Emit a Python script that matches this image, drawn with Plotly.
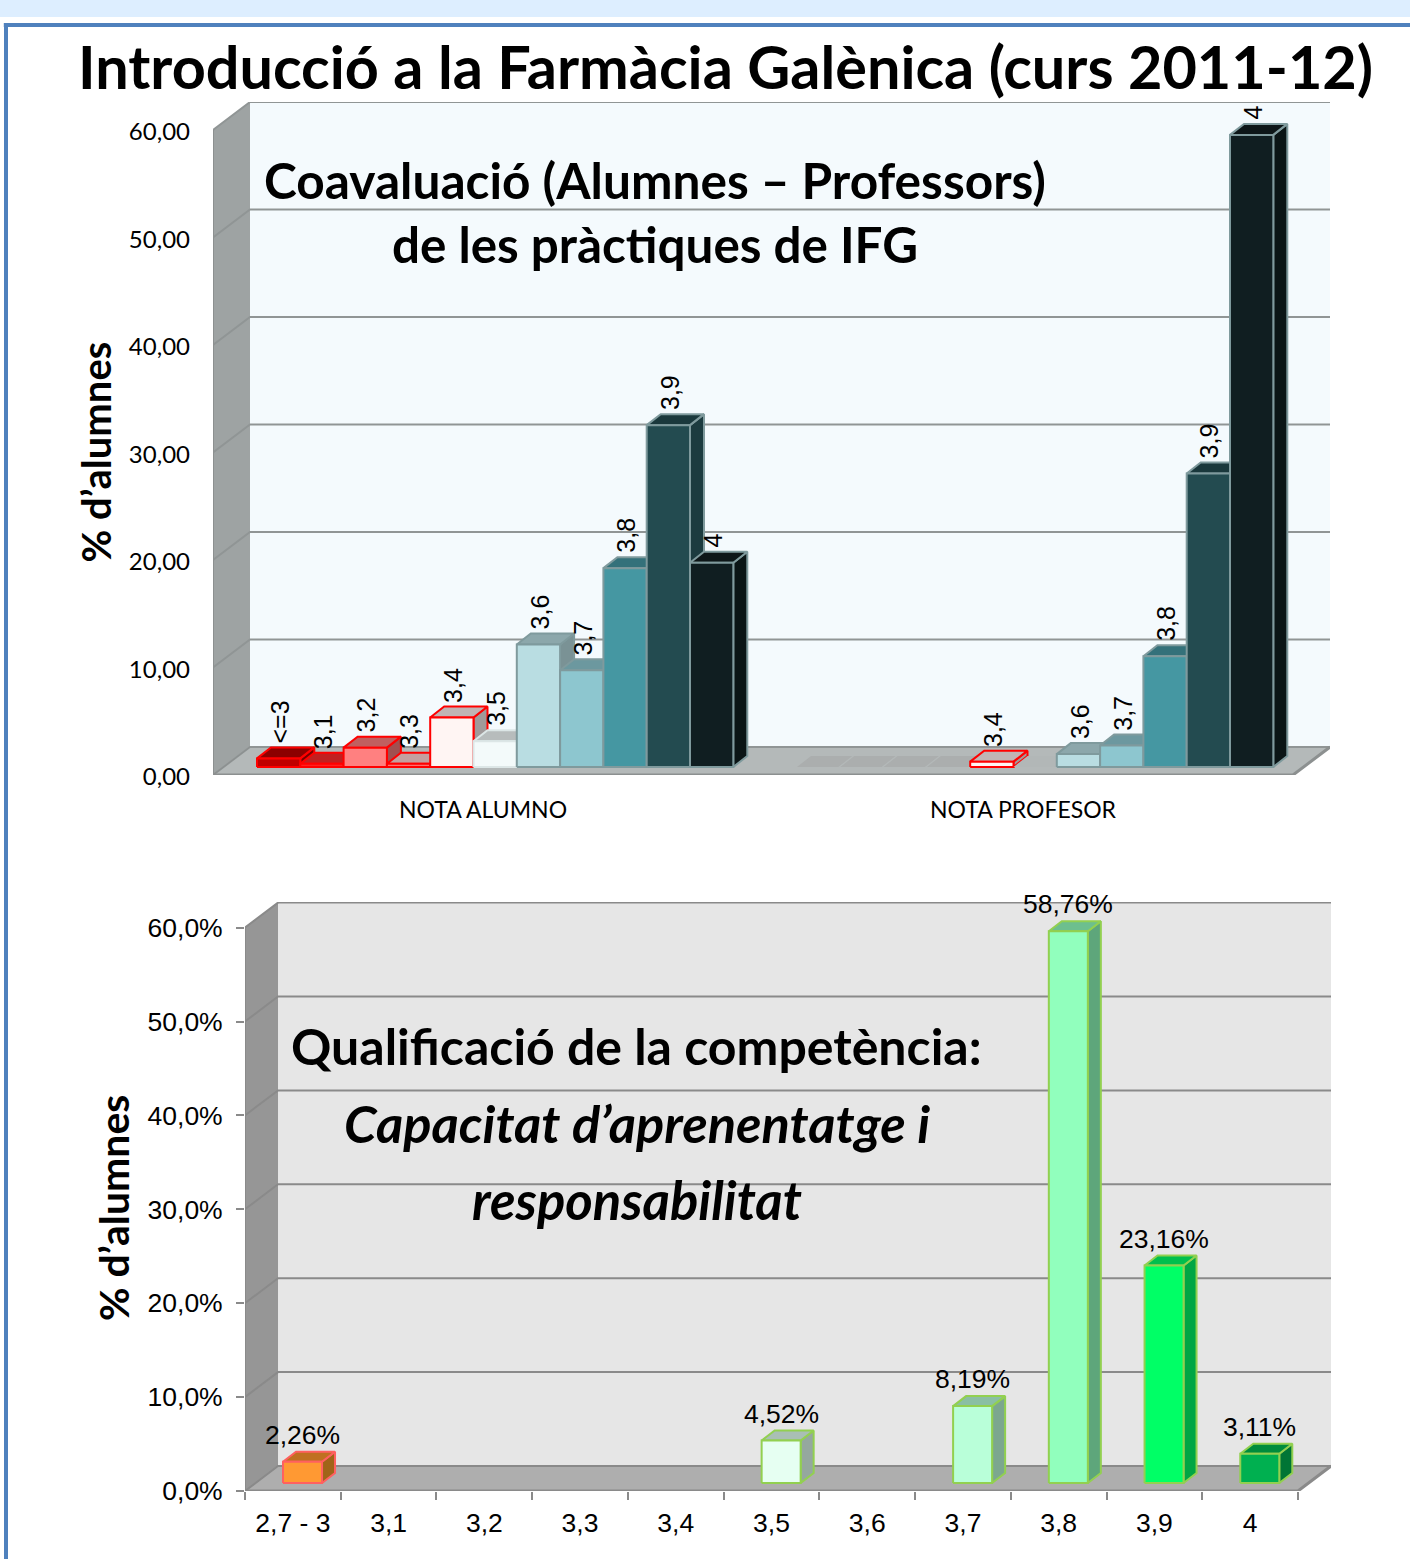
import plotly.graph_objects as go

# ---------- data ----------
grades_top = ["<=3", "3,1", "3,2", "3,3", "3,4", "3,5", "3,6", "3,7", "3,8", "3,9", "4"]
groups_top = ["NOTA ALUMNO", "NOTA PROFESOR"]
nota_alumno = [0.8, 0.3, 1.8, 0.3, 4.6, 2.4, 11.4, 9.0, 18.5, 31.8, 19.0]
nota_profesor = [0, 0, 0, 0, 0.5, 0, 1.2, 2.0, 10.3, 27.3, 58.8]
ticks_top = [0, 10, 20, 30, 40, 50, 60]
ticklabels_top = ["0,00", "10,00", "20,00", "30,00", "40,00", "50,00", "60,00"]

grades_bottom = ["2,7 - 3", "3,1", "3,2", "3,3", "3,4", "3,5", "3,6", "3,7", "3,8", "3,9", "4"]
pct_bottom = [2.26, 0, 0, 0, 0, 4.52, 0, 8.19, 58.76, 23.16, 3.11]
ticks_bottom = [0, 10, 20, 30, 40, 50, 60]
ticklabels_bottom = ["0,0%", "10,0%", "20,0%", "30,0%", "40,0%", "50,0%", "60,0%"]

# ---------- styles ----------
front_top = ["#C00000", "#FF2020", "#FF8080", "#FF7070", "#FFF5F3", "#F3FAFA", "#B9DDE2", "#8DC6CF", "#4597A2", "#234B50", "#101E21"]
roof_top = ["#8C0000", "#C02020", "#C06060", "#C4A0A0", "#C0B4B4", "#B7BCBC", "#8CA7AB", "#6C989F", "#34717A", "#1A383C", "#0D1618"]
side_top = ["#780000", "#A81818", "#A05050", "#A88A8A", "#A09A9A", "#A3A8A8", "#7A9295", "#5F868C", "#2D626A", "#1C3B3F", "#0B1516"]
edge_top = ["#FF0000"] * 5 + ["#DCE6E6"] + ["#7F9A9D"] * 5

front_bot = ["#FF9933", None, None, None, None, "#E6FFF2", None, "#B9FFD9", "#91FFBD", "#00FF66", "#00B050"]
roof_bot = ["#C07020", None, None, None, None, "#A9BFB4", None, "#8ABFA3", "#6DBF8E", "#00BF4D", "#008C3C"]
side_bot = ["#A06418", None, None, None, None, "#95A89F", None, "#7CA78F", "#5EA67B", "#00A644", "#007535"]
edge_bot = ["#FF6060"] + ["#92D050"] * 10

W, H = 1410, 1559
fig = go.Figure()


def px(x):
    return x / W


def py(y):
    return 1 - y / H


def poly(xs, ys, fill, axes, line=None, lw=2, name=""):
    fig.add_trace(go.Scatter(
        x=xs + [xs[0]], y=ys + [ys[0]], mode="lines", fill="toself", fillcolor=fill,
        line=dict(color=line or fill, width=lw if line else 0), xaxis=axes[0], yaxis=axes[1],
        hoverinfo="skip", showlegend=False, name=name))


def lines(xs, ys, color, axes, lw=2):
    fig.add_trace(go.Scatter(x=xs, y=ys, mode="lines", line=dict(color=color, width=lw),
                             xaxis=axes[0], yaxis=axes[1], hoverinfo="skip", showlegend=False))


def room(axes, n, ticks, dx, dy, wall, left, floor, grid, edge):
    top = ticks[-1]
    poly([dx, n + dx, n + dx, dx], [dy, dy, top + dy, top + dy], wall, axes)
    poly([0, dx, dx, 0], [0, dy, top + dy, top], left, axes)
    poly([0, n, n + dx, dx], [0, 0, dy, dy], floor, axes)
    for t in ticks:
        lines([0, dx, n + dx], [t, t + dy, t + dy], grid, axes)
    lines([0, 0], [0, top], edge, axes, 2)
    lines([0, n, n + dx], [0, 0, dy], edge, axes, 3)
    lines([0, dx], [0, dy], edge, axes, 1)


def bar(x0, w, v, by, ddx, ddy, front, roof, side, edge, axes, name):
    x1, x2 = x0 + w, x0 + w + ddx
    b, t = by, by + v
    poly([x1, x2, x2, x1], [b, b + ddy, t + ddy, t], side, axes, edge, name=name)
    poly([x0, x1, x2, x0 + ddx], [t, t, t + ddy, t + ddy], roof, axes, edge, name=name)
    poly([x0, x1, x1, x0], [b, b, t, t], front, axes, edge, name=name)


annotations = []


def text(s, x, y, size, bold=True, italic=False, family="Lato", angle=0):
    if bold:
        s = "<b>" + s + "</b>"
    if italic:
        s = "<i>" + s + "</i>"
    annotations.append(dict(text=s, x=px(x), y=py(y), xref="paper", yref="paper", showarrow=False,
                            xanchor="center", yanchor="middle", textangle=angle,
                            font=dict(family=family, size=size, color="#000000")))


# ---------- top chart ----------
T = ("x", "y")
UX_T = 540.0   # px per group
UY_T = 10.75   # px per percent
DX_T, DY_T = 37 / UX_T, 28 / UY_T
room(T, 2, ticks_top, DX_T, DY_T, "#F4FAFD", "#9EA3A3", "#B4B9B9", "#909595", "#8C9090")
bw = 43.3 / UX_T
bx0 = 44 / UX_T
by_T = 8 / UY_T
ddx, ddy = 14 / UX_T, 11 / UY_T
for g, vals in enumerate([nota_alumno, nota_profesor]):
    for i, v in enumerate(vals):
        x0 = g + bx0 + i * bw
        if v == 0:
            poly([x0, x0 + bw - 2 / UX_T, x0 + bw + ddx - 2 / UX_T, x0 + ddx], [by_T, by_T, by_T + ddy, by_T + ddy],
                 "#ABAEAE" if i < 4 else "#B2B7B7", T, name=grades_top[i])
            continue
        bar(x0, bw, v, by_T, ddx, ddy, front_top[i], roof_top[i], side_top[i], edge_top[i], T, grades_top[i])
        annotations.append(dict(text=grades_top[i], x=x0 + bw / 2 + 1 / UX_T, y=by_T + v + ddy + 3 / UY_T,
                                xref="x", yref="y", showarrow=False, textangle=-90, xanchor="center",
                                yanchor="bottom", borderpad=0,
                                font=dict(family="Liberation Sans", size=25, color="#000000")))

# ---------- bottom chart ----------
B = ("x2", "y2")
UX_B = 95.7
UY_B = 9.39
DX_B, DY_B = 33 / UX_B, 25 / UY_B
room(B, 11, ticks_bottom, DX_B, DY_B, "#E6E6E6", "#969696", "#AEAEAE", "#8A8A8A", "#8A8A8A")
bw2 = 39 / UX_B
bx2 = 38 / UX_B
by_B = 8 / UY_B
dd2x, dd2y = 13 / UX_B, 10 / UY_B
for i, v in enumerate(pct_bottom):
    if v == 0:
        continue
    x0 = i + bx2
    bar(x0, bw2, v, by_B, dd2x, dd2y, front_bot[i], roof_bot[i], side_bot[i], edge_bot[i], B, grades_bottom[i])
    annotations.append(dict(text=f"{v:.2f}".replace(".", ",") + "%", x=x0 + bw2 / 2, y=by_B + v + 27 / UY_B,
                            xref="x2", yref="y2", showarrow=False, xanchor="center", yanchor="middle",
                            font=dict(family="Liberation Sans", size=26.5, color="#000000")))

# ---------- free text ----------
text("Introducció a la Farmàcia Galènica (curs 2011-12)", 725, 66, 59.4)
text("Coavaluació (Alumnes – Professors)", 655, 180, 49.6)
text("de les pràctiques de IFG", 655, 244, 49.4)
text("% d’alumnes", 95.5, 452, 40, angle=-90)
text("Qualificació de la competència:", 636, 1046, 50)
text("Capacitat d’aprenentatge i", 637, 1122, 52.4, italic=True)
text("responsabilitat", 637, 1199, 52.6, italic=True)
text("% d’alumnes", 113, 1208, 41, angle=-90)

# ---------- page furniture ----------
shapes = [
    dict(type="rect", xref="paper", yref="paper", x0=0, x1=1, y0=py(17), y1=1, fillcolor="#DDEEFF", line_width=0, layer="below"),
    dict(type="line", xref="paper", yref="paper", x0=px(3.8), x1=1, y0=py(25), y1=py(25), line=dict(color="#4F81BD", width=4), layer="below"),
    dict(type="line", xref="paper", yref="paper", x0=px(6), x1=px(6), y0=py(25), y1=0, line=dict(color="#4F81BD", width=4), layer="below"),
]

fig.update_layout(
    width=W, height=H, margin=dict(l=0, r=0, t=0, b=0), paper_bgcolor="#FFFFFF", plot_bgcolor="rgba(0,0,0,0)",
    showlegend=False, annotations=annotations, shapes=shapes,
    xaxis=dict(domain=[px(213), px(1330)], range=[0, 2 + DX_T], tickvals=[0.5, 1.5], ticktext=groups_top, automargin=False,
               showgrid=False, zeroline=False, showline=False, ticks="", anchor="y", ticklabelstandoff=19,
               tickfont=dict(family="Lato", size=23, color="#000000")),
    yaxis=dict(domain=[py(775), py(102)], range=[0, (775 - 102) / UY_T], tickvals=ticks_top, ticktext=ticklabels_top, automargin=False,
               showgrid=False, zeroline=False, showline=False, ticks="", anchor="x", ticklabelstandoff=22, ticklabelshift=2,
               tickfont=dict(family="Lato", size=24, color="#000000")),
    xaxis2=dict(domain=[px(245), px(1331)], range=[0, 11 + DX_B], tickvals=[i + 0.5 for i in range(11)], automargin=False,
                ticktext=grades_bottom, showgrid=False, zeroline=False, showline=False, ticks="", anchor="y2",
                ticklabelstandoff=13, tickfont=dict(family="Liberation Sans", size=26.5, color="#000000"),
                minor=dict(tickvals=list(range(12)), ticks="outside", ticklen=8, tickwidth=2, tickcolor="#8A8A8A", showgrid=False)),
    yaxis2=dict(domain=[py(1491), py(902)], range=[0, (1491 - 902) / UY_B], tickvals=ticks_bottom, automargin=False,
                ticktext=ticklabels_bottom, showgrid=False, zeroline=False, showline=False, ticks="outside",
                ticklen=8, tickwidth=2, tickcolor="#8A8A8A", anchor="x2", ticklabelstandoff=8,
                tickfont=dict(family="Liberation Sans", size=26.5, color="#000000")),
)

fig.write_html("out.html", config=dict(displayModeBar=False),
               post_script="document.body.style.margin='0';document.documentElement.style.overflow='hidden';")
